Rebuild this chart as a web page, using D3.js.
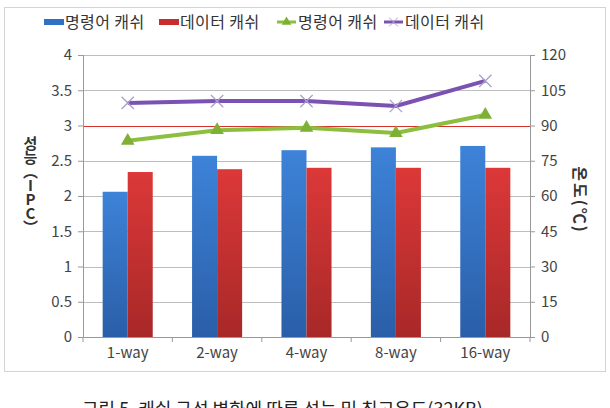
<!DOCTYPE html>
<html>
<head>
<meta charset="utf-8">
<script src="https://cdn.jsdelivr.net/npm/d3@7"></script>
<style>
  body { margin: 0; background: #fff; }
  #chart { position: relative; width: 610px; height: 408px; }
  text, .ytitle { font-family: "Noto Sans CJK KR", "Noto Sans", sans-serif; }
  .ytitle {
    position: absolute;
    writing-mode: vertical-rl;
    text-orientation: upright;
    font-size: 15px;
    font-weight: bold;
    color: #333;
    letter-spacing: -1px;
    line-height: 1;
  }
</style>
</head>
<body>
<div id="chart"></div>
<script>
// data
var categories = ["1-way", "2-way", "4-way", "8-way", "16-way"];
var ipcInstr = [2.06, 2.57, 2.65, 2.69, 2.71];   // 명령어 캐쉬 (bar)
var ipcData  = [2.34, 2.38, 2.40, 2.40, 2.40];   // 데이터 캐쉬 (bar)
var tempInstr = [83.5, 88, 89, 86.8, 94.5];      // 명령어 캐쉬 (line, 온도)
var tempData  = [99.6, 100.4, 100.4, 98.3, 109]; // 데이터 캐쉬 (line, 온도)
var leftTicks = [0, 0.5, 1, 1.5, 2, 2.5, 3, 3.5, 4];
var rightTicks = [0, 15, 30, 45, 60, 75, 90, 105, 120];
var limitIPC = 3;

var W = 610, H = 408;
var margin = { top: 55, right: 80, bottom: 71, left: 83 },
    width = 530 - margin.left,
    height = 337 - margin.top;

var svg = d3.select("#chart")
    .append("svg")
    .attr("width", W)
    .attr("height", H);

var defs = svg.append("defs");
function grad(id, top, bottom) {
    var g = defs.append("linearGradient").attr("id", id)
        .attr("x1", 0).attr("y1", 0).attr("x2", 0).attr("y2", 1);
    g.append("stop").attr("offset", "0%").attr("stop-color", top);
    g.append("stop").attr("offset", "100%").attr("stop-color", bottom);
}
grad("gBlue", "#3d83d8", "#2a5ea8");
grad("gRed", "#dc3838", "#a82828");

// outer frame
svg.append("rect")
    .attr("x", 4.5).attr("y", 7.5)
    .attr("width", 601).attr("height", 364)
    .attr("fill", "none")
    .attr("stroke", "#d4d4d4");

var g = svg.append("g")
    .attr("transform", "translate(" + margin.left + "," + margin.top + ")");

var x0 = d3.scaleBand().domain(categories).range([0, width]).paddingInner(0).paddingOuter(0);
var x1 = d3.scaleBand().domain(["instr", "data"]).range([x0.bandwidth() * 0.22, x0.bandwidth() * 0.78]);
var yL = d3.scaleLinear().domain([0, 4]).range([height, 0]);
var yR = d3.scaleLinear().domain([0, 120]).range([height, 0]);

// gridlines
g.selectAll(".grid")
    .data(leftTicks.filter(function (d) { return d > 0; }))
    .enter().append("line")
    .attr("x1", 0).attr("x2", width)
    .attr("y1", function (d) { return Math.round(yL(d)) + 0.5; })
    .attr("y2", function (d) { return Math.round(yL(d)) + 0.5; })
    .attr("stroke", function (d) { return d === limitIPC ? "#d8322c" : "#bdbdbd"; })
    .attr("stroke-width", 1);

// left axis
var axL = g.append("g")
    .call(d3.axisLeft(yL).tickValues(leftTicks).tickSize(5).tickPadding(6)
        .tickFormat(function (d) { return d; }));
// right axis
var axR = g.append("g")
    .attr("transform", "translate(" + width + ",0)")
    .call(d3.axisRight(yR).tickValues(rightTicks).tickSize(5).tickPadding(6));
// bottom axis
var axB = g.append("g")
    .attr("transform", "translate(0," + height + ")")
    .call(d3.axisBottom(x0).tickSize(0).tickPadding(10));
axB.selectAll(".tick").append("line")
    .attr("x1", -x0.bandwidth() / 2).attr("x2", -x0.bandwidth() / 2)
    .attr("y1", 0).attr("y2", 5)
    .attr("stroke", "#999");
axB.append("line")
    .attr("x1", width).attr("x2", width).attr("y1", 0).attr("y2", 5)
    .attr("stroke", "#999");

[axL, axR, axB].forEach(function (a) {
    a.select(".domain").attr("stroke", "#999");
    a.selectAll(".tick line").attr("stroke", "#999");
    a.selectAll(".tick text")
        .attr("fill", "#444")
        .style("font-size", "15px");
});

// bars
var groups = g.selectAll(".cat")
    .data(categories)
    .enter().append("g")
    .attr("transform", function (d) { return "translate(" + x0(d) + ",0)"; });

groups.append("rect")
    .attr("x", x1("instr"))
    .attr("width", x1.bandwidth())
    .attr("y", function (d, i) { return yL(ipcInstr[i]); })
    .attr("height", function (d, i) { return height - yL(ipcInstr[i]); })
    .attr("fill", "url(#gBlue)");

groups.append("rect")
    .attr("x", x1("data"))
    .attr("width", x1.bandwidth())
    .attr("y", function (d, i) { return yL(ipcData[i]); })
    .attr("height", function (d, i) { return height - yL(ipcData[i]); })
    .attr("fill", "url(#gRed)");

// lines
var cx = function (i) { return x0(categories[i]) + x0.bandwidth() / 2; };
var line = d3.line()
    .x(function (d, i) { return cx(i); })
    .y(function (d) { return yR(d); });

g.append("path")
    .datum(tempInstr)
    .attr("d", line)
    .attr("fill", "none")
    .attr("stroke", "#8cbf3f")
    .attr("stroke-width", 4)
    .attr("stroke-linejoin", "round");

g.selectAll(".tri")
    .data(tempInstr)
    .enter().append("path")
    .attr("d", d3.symbol().type(d3.symbolTriangle).size(80))
    .attr("transform", function (d, i) { return "translate(" + cx(i) + "," + yR(d) + ")"; })
    .attr("fill", "#7fb036");

g.append("path")
    .datum(tempData)
    .attr("d", line)
    .attr("fill", "none")
    .attr("stroke", "#7b52b4")
    .attr("stroke-width", 4)
    .attr("stroke-linejoin", "round");

g.selectAll(".cross")
    .data(tempData)
    .enter().append("path")
    .attr("d", d3.symbol().type(d3.symbolTimes).size(100))
    .attr("transform", function (d, i) { return "translate(" + cx(i) + "," + yR(d) + ")"; })
    .attr("fill", "none")
    .attr("stroke", "#a9a0c8")
    .attr("stroke-width", 1.3);

// axis titles: left one stacked upright (html so text-orientation works)
d3.select("#chart").append("div")
    .attr("class", "ytitle")
    .style("left", "23px")
    .style("top", "136px")
    .text("성능（IPC）");

svg.append("text")
    .attr("transform", "translate(580,200) rotate(90)")
    .attr("text-anchor", "middle")
    .attr("dy", "0.35em")
    .style("font-size", "16px")
    .style("font-weight", "bold")
    .style("letter-spacing", "2px")
    .attr("fill", "#333")
    .text("온도(℃)");

// legend
var legend = [
    { label: "명령어 캐쉬", type: "bar", color: "#2f6fc4", x: 44 },
    { label: "데이터 캐쉬", type: "bar", color: "#c62e2e", x: 159 },
    { label: "명령어 캐쉬", type: "tri", color: "#8cbf3f", x: 277 },
    { label: "데이터 캐쉬", type: "x", color: "#7b52b4", x: 384 }
];
var lg = svg.selectAll(".lg")
    .data(legend)
    .enter().append("g")
    .attr("transform", function (d) { return "translate(" + d.x + ",22)"; });
lg.filter(function (d) { return d.type === "bar"; })
    .append("rect")
    .attr("x", 0).attr("y", -3).attr("width", 20).attr("height", 6)
    .attr("fill", function (d) { return d.color; });
lg.filter(function (d) { return d.type !== "bar"; })
    .append("line")
    .attr("x1", 0).attr("x2", 19).attr("y1", 0).attr("y2", 0)
    .attr("stroke", function (d) { return d.color; })
    .attr("stroke-width", 3);
lg.filter(function (d) { return d.type === "tri"; })
    .append("path")
    .attr("d", d3.symbol().type(d3.symbolTriangle).size(40))
    .attr("transform", "translate(9.5,0)")
    .attr("fill", "#7fb036");
lg.filter(function (d) { return d.type === "x"; })
    .append("path")
    .attr("d", d3.symbol().type(d3.symbolTimes).size(50))
    .attr("transform", "translate(9.5,0)")
    .attr("fill", "none")
    .attr("stroke", "#a9a0c8");
lg.append("text")
    .attr("x", 21)
    .attr("dy", "0.35em")
    .style("font-size", "16px")
    .style("letter-spacing", "0.4px")
    .attr("fill", "#333")
    .text(function (d) { return d.label; });

// caption (cut off at the bottom in the source)
svg.append("text")
    .attr("x", 82)
    .attr("y", 416)
    .style("font-size", "18px")
    .attr("fill", "#222")
    .text("그림 5. 캐쉬 구성 변화에 따른 성능 및 최고온도(32KB)");
</script>
</body>
</html>
